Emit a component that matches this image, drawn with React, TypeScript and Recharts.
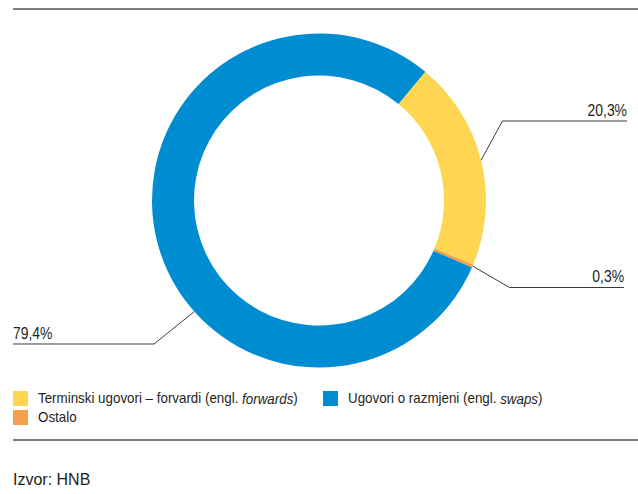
import { PieChart, Pie, Cell, Legend } from 'recharts'

const names = ['Terminski ugovori – forvardi', 'Ostalo', 'Ugovori o razmjeni']
const italicNotes = ['forwards', '', 'swaps']
const shares = [20.3, 0.3, 79.4]
const colors = ['#fed652', '#f7a04b', '#008cd1']
// legend slots: [slice index, x of swatch, y of row]
const legendSlots = [
  [0, 13, 6],
  [2, 323, 6],
  [1, 13, 25],
]

// leader line layout, per slice: optional anchor angle, elbow point, end of the horizontal
const leaders = [
  { angle: null, elbowX: 502.5, elbowY: 121, endX: 627 },
  { angle: null, elbowX: 509.5, elbowY: 287.5, endX: 624 },
  { angle: -138.3, elbowX: 154, elbowY: 344, endX: 13 },
]

const data = names.map((name, i) => ({ name, value: shares[i] }))

const RAD = Math.PI / 180
const TEXT = '#231f20'
const FONT = '"Liberation Sans", Arial, Helvetica, sans-serif'

function fmt(v: number) {
  return v.toFixed(1).replace('.', ',') + '%'
}

function renderLabel(props: any) {
  const { cx, cy, midAngle, outerRadius, index, value } = props
  const l = leaders[index]
  const a = (l.angle ?? midAngle) * RAD
  const sx = cx + outerRadius * Math.cos(a)
  const sy = cy - outerRadius * Math.sin(a)
  const right = l.endX > l.elbowX
  return (
    <g key={`lbl-${index}`}>
      <polyline
        points={`${sx},${sy} ${l.elbowX},${l.elbowY} ${l.endX},${l.elbowY}`}
        fill="none"
        stroke="#3a3a3a"
        strokeWidth={1}
      />
      <text
        transform={`translate(${l.endX},${l.elbowY - 11}) scale(0.87,1)`}
        textAnchor={right ? 'end' : 'start'}
        dominantBaseline="central"
        fill={TEXT}
        fontFamily={FONT}
        fontSize={16}
      >
        {fmt(value)}
      </text>
    </g>
  )
}

function LegendBox() {
  return (
    <svg width={638} height={45} style={{ display: 'block' }}>
      {legendSlots.map(([i, x, y]) => (
        <g key={i}>
          <rect x={x} y={y} width={15} height={15} fill={colors[i]} />
          <text
            transform={`translate(${x + 25},${y + 7.5}) scale(0.955,1)`}
            dominantBaseline="central"
            fill={TEXT}
            fontFamily={FONT}
            fontSize={14}
          >
            {names[i]}
            {italicNotes[i] && (
              <>
                {' (engl. '}
                <tspan fontStyle="italic">{italicNotes[i]}</tspan>
                {')'}
              </>
            )}
          </text>
        </g>
      ))}
    </svg>
  )
}

export default function App() {
  return (
    <div style={{ position: 'absolute', left: 0, top: 0, width: 638, height: 494, background: '#fff' }}>
      <div style={{ position: 'absolute', left: 13, top: 7.5, width: 625, height: 2, background: '#7d7d7d' }} />
      <PieChart width={638} height={494} style={{ position: 'absolute', left: 0, top: 0 }}>
        <Pie
          data={data}
          dataKey="value"
          cx={314}
          cy={195.5}
          innerRadius={125}
          outerRadius={167}
          startAngle={50.5}
          endAngle={-309.5}
          stroke="none"
          label={renderLabel}
          labelLine={false}
          isAnimationActive={false}
        >
          {data.map((d, i) => (
            <Cell key={d.name} fill={colors[i]} />
          ))}
        </Pie>
        <Legend
          content={() => <LegendBox />}
          wrapperStyle={{ position: 'absolute', left: 0, top: 385, width: 638, height: 45 }}
        />
      </PieChart>
      <div style={{ position: 'absolute', left: 13, top: 439, width: 625, height: 2, background: '#7d7d7d' }} />
      <div
        style={{
          position: 'absolute',
          left: 13,
          top: 471,
          fontFamily: FONT,
          fontSize: 16,
          lineHeight: '18px',
          color: TEXT,
        }}
      >
        Izvor: HNB
      </div>
    </div>
  )
}
